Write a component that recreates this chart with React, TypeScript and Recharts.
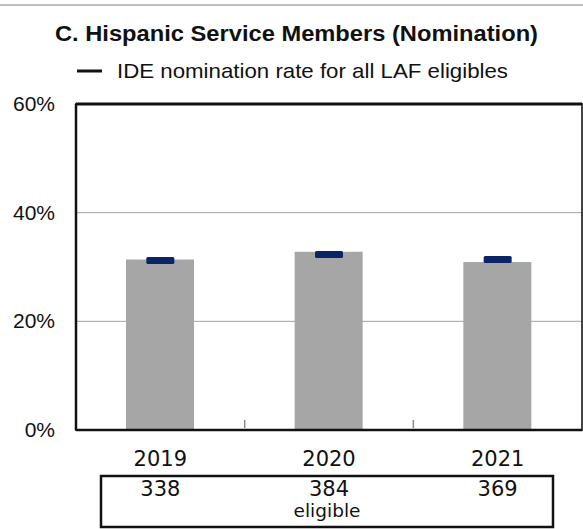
import {
  Bar,
  CartesianGrid,
  ComposedChart,
  ReferenceArea,
  ReferenceLine,
  Scatter,
  XAxis,
  YAxis,
} from 'recharts'

const years = ['2019', '2020', '2021']
const nominationRate = [31.4, 32.8, 30.9]
const allLafRate = [31.2, 32.3, 31.4]
const eligibleCounts = [338, 384, 369]
const yTicks = [0, 20, 40, 60]
const bandEdges = [1, 2]

const chartData = years.map((year, index) => ({
  year,
  slot: index + 0.5,
  rate: nominationRate[index],
  allLaf: allLafRate[index],
  eligible: eligibleCounts[index],
}))

const sans = '"Liberation Sans", Arial, sans-serif'
const numFont = '"DejaVu Sans", sans-serif'

function YTick({ y, payload }: any) {
  return (
    <text x={55} y={y} dy={7} textAnchor="end" fontFamily={sans} fontSize={21} fill="#111">
      {payload.value}%
    </text>
  )
}

function XTick({ x, payload, index }: any) {
  return (
    <g>
      <text x={x} y={466} textAnchor="middle" fontFamily={numFont} fontSize={21} fill="#111">
        {payload.value}
      </text>
      <text x={x} y={496} textAnchor="middle" fontFamily={numFont} fontSize={21} fill="#111">
        {chartData[index]?.eligible}
      </text>
    </g>
  )
}

// short separator between year bands, drawn up from the bottom border
function EdgeTick({ x, y }: any) {
  return <line x1={x} y1={y} x2={x} y2={y - 8} stroke="#8a8a8a" strokeWidth={1.5} />
}

function Marker({ cx, cy }: any) {
  if (cx == null || cy == null) return null
  return <rect x={cx - 14} y={cy - 3.5} width={28} height={7} rx={1.5} fill="#0b2466" />
}

export default function App() {
  return (
    <div
      style={{
        position: 'absolute',
        left: 0,
        top: 0,
        width: 583,
        height: 529,
        background: '#fff',
        overflow: 'hidden',
      }}
    >
      <ComposedChart
        width={583}
        height={529}
        data={chartData}
        margin={{ top: 104, right: 1, bottom: 0, left: 0 }}
      >
        <CartesianGrid vertical={false} stroke="#a0a0a0" strokeWidth={1} />
        <XAxis
          xAxisId="edge"
          dataKey="slot"
          type="number"
          domain={[0, 3]}
          allowDataOverflow
          ticks={bandEdges}
          mirror
          axisLine={false}
          tickLine={false}
          tickSize={0}
          tick={<EdgeTick />}
        />
        <XAxis
          dataKey="year"
          height={99}
          axisLine={false}
          tickLine={false}
          tick={<XTick />}
          interval={0}
        />
        <YAxis
          domain={[0, 60]}
          ticks={yTicks}
          width={76}
          axisLine={false}
          tickLine={false}
          tick={<YTick />}
        />
        <Bar dataKey="rate" fill="#a6a6a6" barSize={68} isAnimationActive={false} />
        <ReferenceArea y1={0} y2={60} fill="none" fillOpacity={0} stroke="#444" strokeWidth={2} />
        <ReferenceLine y={60} stroke="#111" strokeWidth={3} />
        <ReferenceLine y={0} stroke="#111" strokeWidth={2.5} />
        <ReferenceLine xAxisId="edge" x={0} stroke="#111" strokeWidth={2.5} />
        <Scatter dataKey="allLaf" shape={<Marker />} isAnimationActive={false} />
      </ComposedChart>

      <svg
        width={583}
        height={529}
        style={{ position: 'absolute', left: 0, top: 0, pointerEvents: 'none' }}
      >
        <line x1={0} y1={5} x2={583} y2={5} stroke="#aaa" strokeWidth={1.5} />
        <text
          x={55}
          y={40.5}
          fontFamily={sans}
          fontWeight="bold"
          fontSize={22}
          textLength={483}
          lengthAdjust="spacingAndGlyphs"
          fill="#111"
        >
          C. Hispanic Service Members (Nomination)
        </text>
        <line x1={77} y1={71} x2={102} y2={71} stroke="#111" strokeWidth={3} />
        <text
          x={117}
          y={78}
          fontFamily={sans}
          fontSize={21}
          textLength={391}
          lengthAdjust="spacingAndGlyphs"
          fill="#111"
        >
          IDE nomination rate for all LAF eligibles
        </text>
        <rect x={101} y={476} width={452} height={51} fill="none" stroke="#111" strokeWidth={2.5} />
        <text x={327} y={517} textAnchor="middle" fontFamily={numFont} fontSize={18.5} fill="#111">
          eligible
        </text>
      </svg>
    </div>
  )
}
